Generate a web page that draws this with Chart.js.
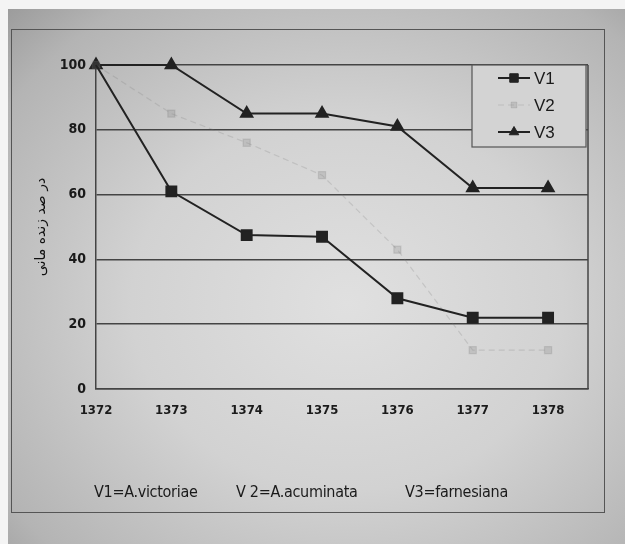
<!DOCTYPE html>
<html>
<head>
<meta charset="utf-8">
<script src="https://cdn.jsdelivr.net/npm/chart.js@4.4.1/dist/chart.umd.min.js"></script>
<style>
  html, body { margin: 0; padding: 0; background: #f4f4f4; }
  #page {
    position: absolute; left: 8px; top: 9px; width: 617px; height: 535px;
    background: radial-gradient(ellipse at 55% 55%, #e0e0e0 0%, #d2d2d2 45%, #b4b4b4 85%, #9c9c9c 100%);
  }
  #frame {
    position: absolute; left: 11px; top: 29px; width: 592px; height: 482px;
    border: 1.5px solid #555;
  }
  #wrap { position: absolute; left: 19px; top: 38px; width: 593px; height: 483px; }
  .note {
    position: absolute; top: 482px; font: 16px "DejaVu Sans Condensed", sans-serif;
    color: #1a1a1a; letter-spacing: -0.3px;
  }
</style>
</head>
<body>
<div id="page"></div>
<div id="frame"></div>
<div id="wrap"><canvas id="chart" width="593" height="483"></canvas></div>
<div class="note" style="left:94px">V1=A.victoriae</div>
<div class="note" style="left:236px">V 2=A.acuminata</div>
<div class="note" style="left:405px">V3=farnesiana</div>
<script>
// years on x axis
const years = [1372, 1373, 1374, 1375, 1376, 1377, 1378];
// percent survival per species
const v1 = [100, 61, 47.5, 47, 28, 22, 22];
const v2 = [100, 85, 76, 66, 43, 12, 12];
const v3 = [100, 100, 85, 85, 81, 62, 62];
const yTicks = [0, 20, 40, 60, 80, 100];
const yTitle = "در صد زنده مانی";

const toPoints = vals => years.map((y, i) => ({ x: y, y: vals[i] }));

const ink = "#222";
const faint = "rgba(120,120,120,0.22)";
const tickFont = "'DejaVu Sans Condensed', sans-serif";

// draws right border of plot + legend box inside plot area
const boxPlugin = {
  id: "boxPlugin",
  afterDatasetsDraw(chart) {
    const { ctx, chartArea } = chart;
    ctx.save();
    ctx.strokeStyle = "#444";
    ctx.lineWidth = 1.5;
    ctx.beginPath();
    ctx.moveTo(chartArea.right, chartArea.top);
    ctx.lineTo(chartArea.right, chartArea.bottom);
    ctx.stroke();

    // legend box
    const bx = chartArea.right - 116, by = chartArea.top, bw = 114, bh = 82;
    ctx.fillStyle = "#d3d3d3";
    ctx.fillRect(bx, by, bw, bh);
    ctx.strokeStyle = "#555";
    ctx.lineWidth = 1.2;
    ctx.strokeRect(bx, by, bw, bh);

    chart.data.datasets.forEach((ds, i) => {
      const y = by + 13 + i * 27;
      ctx.strokeStyle = ds.borderColor;
      ctx.lineWidth = ds.borderWidth;
      ctx.setLineDash(ds.borderDash || []);
      ctx.beginPath();
      ctx.moveTo(bx + 26, y);
      ctx.lineTo(bx + 58, y);
      ctx.stroke();
      ctx.setLineDash([]);
      ctx.fillStyle = ds.pointBackgroundColor;
      ctx.strokeStyle = ds.pointBorderColor;
      ctx.lineWidth = 1;
      Chart.helpers.drawPoint(ctx, {
        pointStyle: ds.pointStyle, radius: ds.legendRadius, rotation: 0, borderWidth: 1
      }, bx + 42, y);
      ctx.fillStyle = "#1a1a1a";
      ctx.font = "17px 'Liberation Sans', Arial, sans-serif";
      ctx.textBaseline = "middle";
      ctx.fillText(ds.label, bx + 62, y + 1);
    });
    ctx.restore();
  }
};

new Chart(document.getElementById("chart"), {
  type: "line",
  data: {
    datasets: [
      {
        label: "V1", data: toPoints(v1), clip: false,
        borderColor: ink, borderWidth: 2,
        // first marker hides under the V3 triangle in the original
        pointStyle: "rect", pointRadius: c => (c.dataIndex === 0 ? 0 : 7), legendRadius: 6,
        pointBackgroundColor: ink, pointBorderColor: ink
      },
      {
        label: "V2", data: toPoints(v2), clip: false,
        borderColor: faint, borderWidth: 1.2, borderDash: [6, 4],
        pointStyle: "rect", pointRadius: 5, legendRadius: 4,
        pointBackgroundColor: faint, pointBorderColor: faint
      },
      {
        label: "V3", data: toPoints(v3), clip: false,
        borderColor: ink, borderWidth: 2,
        pointStyle: "triangle", pointRadius: 6.5, legendRadius: 5.5,
        pointBackgroundColor: ink, pointBorderColor: ink
      }
    ]
  },
  options: {
    responsive: false,
    animation: false,
    layout: { padding: { top: 27, right: 24, bottom: 92, left: 0 } },
    plugins: { legend: { display: false }, tooltip: { enabled: false } },
    scales: {
      x: {
        type: "linear", min: 1372, max: 1378.53,
        afterFit: s => { s.height = 40; },
        grid: { display: false, drawTicks: false },
        border: { display: true, color: "#444", width: 1.5 },
        ticks: {
          stepSize: 1, includeBounds: false, padding: 14,
          color: "#1a1a1a",
          font: { family: tickFont, size: 13, weight: "bold" },
          callback: v => (v <= 1378 ? String(v) : "")
        }
      },
      y: {
        min: 0, max: 100,
        afterFit: s => { s.width = 77; },
        afterBuildTicks: s => { s.ticks = yTicks.map(v => ({ value: v })); },
        grid: { color: "#444", lineWidth: 1.5, drawTicks: false },
        border: { display: true, color: "#444", width: 1.5 },
        ticks: {
          padding: 10, color: "#1a1a1a",
          font: { family: tickFont, size: 14, weight: "bold" }
        },
        title: {
          display: true, text: yTitle, color: "#111",
          font: { family: "'DejaVu Sans', sans-serif", size: 14, weight: "normal" },
          padding: { top: 14, bottom: 0 }
        }
      }
    }
  },
  plugins: [boxPlugin]
});
</script>
</body>
</html>
